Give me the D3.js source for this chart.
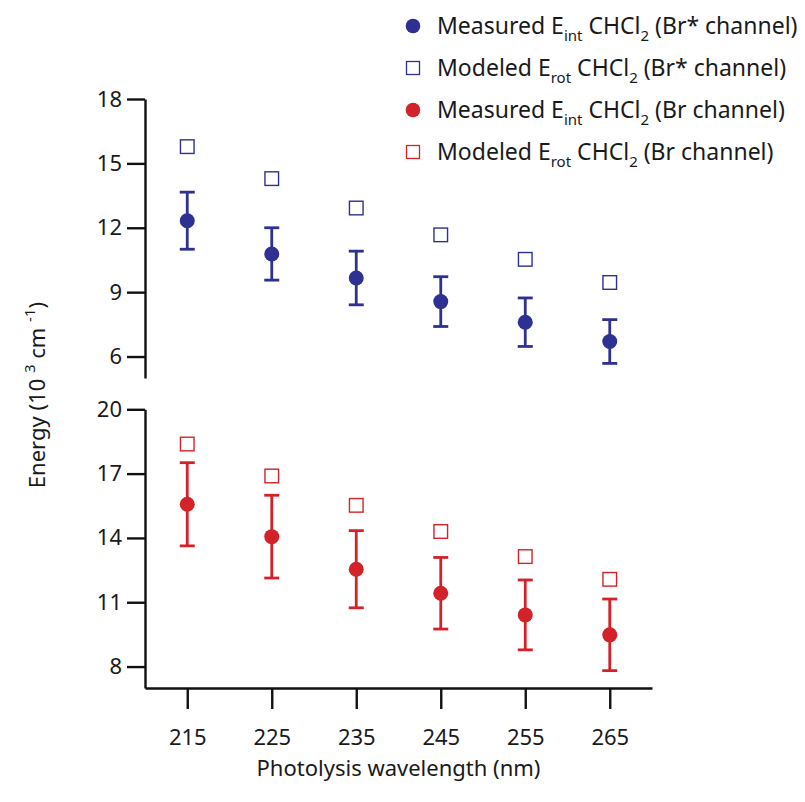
<!DOCTYPE html>
<html lang="en">
<head>
<meta charset="UTF-8">
<title>CHCl2 internal energy</title>
<script src="https://cdn.jsdelivr.net/npm/d3@7"></script>
<style>
  body { margin: 0; background: #fff; }
  text { font-family: "Noto Sans", "Open Sans", sans-serif; fill: #1a1a1a; }
</style>
</head>
<body>
<div id="chart"></div>
<script>
// wavelengths (nm)
const wavelengths = [215, 225, 235, 245, 255, 265];

// Br* channel (10^3 cm^-1)
const measuredBrStar = [12.33, 10.78, 9.66, 8.56, 7.60, 6.70];
const errBrStar      = [1.33, 1.22, 1.25, 1.16, 1.13, 1.02];
const modeledBrStar  = [15.78, 14.29, 12.92, 11.67, 10.53, 9.45];

// Br channel
const measuredBr = [15.57, 14.06, 12.54, 11.42, 10.41, 9.48];
const errBr      = [1.94, 1.93, 1.80, 1.67, 1.63, 1.67];
const modeledBr  = [18.38, 16.89, 15.52, 14.30, 13.13, 12.07];

const topTicks = [6, 9, 12, 15, 18];
const bottomTicks = [8, 11, 14, 17, 20];

const blue = "#2e3192", red = "#d2232a";

const width = 805, height = 802;
const svg = d3.select("#chart").append("svg")
    .attr("width", width)
    .attr("height", height);

const x = d3.scaleLinear().domain([210, 270]).range([145, 652]);
const yTop = d3.scaleLinear().domain([5, 18]).range([378, 99]);
const yBot = d3.scaleLinear().domain([7, 20]).range([688, 409.3]);

function styleAxis(g) {
    g.select(".domain").attr("stroke", "#111").attr("stroke-width", 2.4);
    g.selectAll(".tick line").attr("stroke", "#111").attr("stroke-width", 2.4);
    g.selectAll(".tick text").attr("font-size", 22).attr("fill", "#1a1a1a")
        .attr("font-family", "'Noto Sans', sans-serif");
}

svg.append("g").attr("transform", "translate(145,0)")
    .call(d3.axisLeft(yTop).tickValues(topTicks).tickSize(18).tickSizeOuter(0).tickPadding(5))
    .call(styleAxis);
svg.append("g").attr("transform", "translate(145,0)")
    .call(d3.axisLeft(yBot).tickValues(bottomTicks).tickSize(18).tickSizeOuter(0).tickPadding(5))
    .call(styleAxis);
svg.append("g").attr("transform", "translate(0,688)")
    .call(d3.axisBottom(x).tickValues(wavelengths).tickSize(21).tickSizeOuter(0).tickPadding(20))
    .call(styleAxis);

// series drawing
function drawSeries(y, meas, err, model, color) {
    const g = svg.append("g");
    const capW = 7.5;
    wavelengths.forEach((w, i) => {
        const cx = x(w);
        g.append("line")
            .attr("x1", cx).attr("x2", cx)
            .attr("y1", y(meas[i] + err[i])).attr("y2", y(meas[i] - err[i]))
            .attr("stroke", color).attr("stroke-width", 2.8);
        [meas[i] + err[i], meas[i] - err[i]].forEach(v => {
            g.append("line")
                .attr("x1", cx - capW).attr("x2", cx + capW)
                .attr("y1", y(v)).attr("y2", y(v))
                .attr("stroke", color).attr("stroke-width", 2.8);
        });
        g.append("circle").attr("cx", cx).attr("cy", y(meas[i])).attr("r", 7.5).attr("fill", color);
        g.append("rect")
            .attr("x", cx - 6.8).attr("y", y(model[i]) - 6.8)
            .attr("width", 13.6).attr("height", 13.6)
            .attr("fill", "none").attr("stroke", color).attr("stroke-width", 1.4);
    });
}
drawSeries(yTop, measuredBrStar, errBrStar, modeledBrStar, blue);
drawSeries(yBot, measuredBr, errBr, modeledBr, red);

// axis titles
svg.append("text")
    .attr("x", (x.range()[0] + x.range()[1]) / 2).attr("y", 776)
    .attr("text-anchor", "middle").attr("font-size", 22)
    .text("Photolysis wavelength (nm)");

const yt = svg.append("text")
    .attr("transform", "translate(45,395) rotate(-90)")
    .attr("text-anchor", "middle").attr("font-size", 22);
yt.append("tspan").text("Energy (10 ");
yt.append("tspan").attr("font-size", 15).attr("dy", -10).text("3");
yt.append("tspan").attr("dy", 10).text(" cm ");
yt.append("tspan").attr("font-size", 15).attr("dy", -10).text("-1");
yt.append("tspan").attr("dy", 10).text(")");

// legend
const legendItems = [
    { kind: "circle", color: blue, pre: "Measured E", sub: "int", chan: "(Br* channel)" },
    { kind: "square", color: blue, pre: "Modeled E", sub: "rot", chan: "(Br* channel)" },
    { kind: "circle", color: red, pre: "Measured E", sub: "int", chan: "(Br channel)" },
    { kind: "square", color: red, pre: "Modeled E", sub: "rot", chan: "(Br channel)" }
];
const legend = svg.append("g");
legendItems.forEach((d, i) => {
    const ly = 26 + i * 42;
    if (d.kind === "circle") {
        legend.append("circle").attr("cx", 413).attr("cy", ly).attr("r", 7.3).attr("fill", d.color);
    } else {
        legend.append("rect").attr("x", 406.5).attr("y", ly - 6.5).attr("width", 13).attr("height", 13)
            .attr("fill", "none").attr("stroke", d.color).attr("stroke-width", 1.3);
    }
    const t = legend.append("text").attr("x", 437).attr("y", ly + 8).attr("font-size", 23);
    t.append("tspan").text(d.pre);
    t.append("tspan").attr("font-size", 15).attr("dy", 7).text(d.sub);
    t.append("tspan").attr("dy", -7).text(" CHCl");
    t.append("tspan").attr("font-size", 15).attr("dy", 7).text("2");
    t.append("tspan").attr("dy", -7).text(" " + d.chan);
});
</script>
</body>
</html>
